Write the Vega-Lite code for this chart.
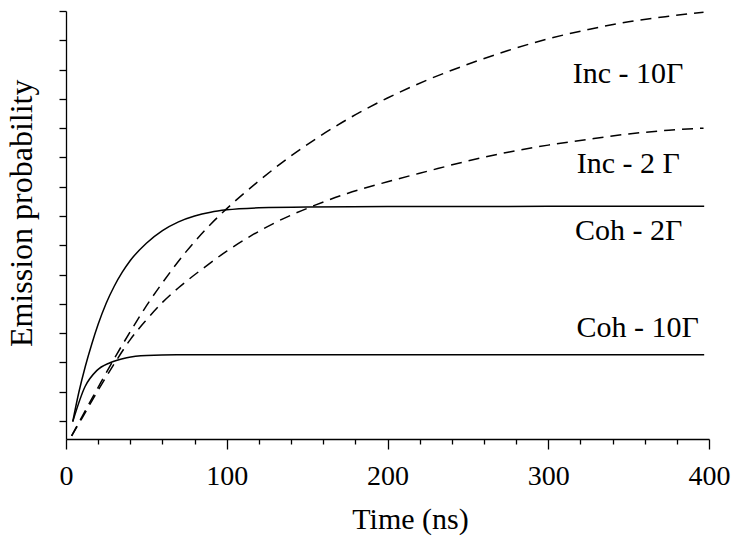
{
  "$schema": "https://vega.github.io/schema/vega-lite/v6.json",
  "width": 643,
  "height": 428,
  "autosize": "none",
  "padding": {"left": 66, "top": 11, "right": 24, "bottom": 98},
  "background": "white",
  "config": {
    "view": {"stroke": null},
    "font": "Liberation Serif, Times New Roman, serif",
    "axis": {"grid": false, "domainColor": "black", "tickColor": "black", "domainWidth": 1.3, "tickWidth": 1.3, "labelColor": "black", "titleColor": "black", "labelFont": "Liberation Serif, Times New Roman, serif", "titleFont": "Liberation Serif, Times New Roman, serif", "titleFontWeight": "normal"}
  },
  "datasets": {
    "curves": [
      {"series": "Coh - 2Γ", "kind": "coh", "t": 4.2, "p": 0.98},
      {"series": "Coh - 2Γ", "kind": "coh", "t": 8, "p": 1.98},
      {"series": "Coh - 2Γ", "kind": "coh", "t": 12, "p": 2.86},
      {"series": "Coh - 2Γ", "kind": "coh", "t": 16, "p": 3.62},
      {"series": "Coh - 2Γ", "kind": "coh", "t": 20, "p": 4.3},
      {"series": "Coh - 2Γ", "kind": "coh", "t": 25, "p": 5.02},
      {"series": "Coh - 2Γ", "kind": "coh", "t": 30, "p": 5.6},
      {"series": "Coh - 2Γ", "kind": "coh", "t": 35, "p": 6.08},
      {"series": "Coh - 2Γ", "kind": "coh", "t": 40, "p": 6.48},
      {"series": "Coh - 2Γ", "kind": "coh", "t": 50, "p": 7.07},
      {"series": "Coh - 2Γ", "kind": "coh", "t": 60, "p": 7.5},
      {"series": "Coh - 2Γ", "kind": "coh", "t": 70, "p": 7.8},
      {"series": "Coh - 2Γ", "kind": "coh", "t": 80, "p": 8.0},
      {"series": "Coh - 2Γ", "kind": "coh", "t": 90, "p": 8.13},
      {"series": "Coh - 2Γ", "kind": "coh", "t": 100, "p": 8.21},
      {"series": "Coh - 2Γ", "kind": "coh", "t": 120, "p": 8.28},
      {"series": "Coh - 2Γ", "kind": "coh", "t": 150, "p": 8.31},
      {"series": "Coh - 2Γ", "kind": "coh", "t": 200, "p": 8.32},
      {"series": "Coh - 2Γ", "kind": "coh", "t": 300, "p": 8.33},
      {"series": "Coh - 2Γ", "kind": "coh", "t": 397, "p": 8.33},
      {"series": "Coh - 10Γ", "kind": "coh", "t": 4.2, "p": 0.98},
      {"series": "Coh - 10Γ", "kind": "coh", "t": 11.8, "p": 2.17},
      {"series": "Coh - 10Γ", "kind": "coh", "t": 19.1, "p": 2.72},
      {"series": "Coh - 10Γ", "kind": "coh", "t": 27.4, "p": 2.99},
      {"series": "Coh - 10Γ", "kind": "coh", "t": 37.8, "p": 3.16},
      {"series": "Coh - 10Γ", "kind": "coh", "t": 50.2, "p": 3.235},
      {"series": "Coh - 10Γ", "kind": "coh", "t": 68.9, "p": 3.26},
      {"series": "Coh - 10Γ", "kind": "coh", "t": 100, "p": 3.26},
      {"series": "Coh - 10Γ", "kind": "coh", "t": 200, "p": 3.26},
      {"series": "Coh - 10Γ", "kind": "coh", "t": 397, "p": 3.26},
      {"series": "Inc - 10Γ", "kind": "inc", "t": 3.5, "p": 0.49},
      {"series": "Inc - 10Γ", "kind": "inc", "t": 10, "p": 1.15},
      {"series": "Inc - 10Γ", "kind": "inc", "t": 20, "p": 2.15},
      {"series": "Inc - 10Γ", "kind": "inc", "t": 30, "p": 3.13},
      {"series": "Inc - 10Γ", "kind": "inc", "t": 40, "p": 4.05},
      {"series": "Inc - 10Γ", "kind": "inc", "t": 50, "p": 4.93},
      {"series": "Inc - 10Γ", "kind": "inc", "t": 60, "p": 5.72},
      {"series": "Inc - 10Γ", "kind": "inc", "t": 75, "p": 6.8},
      {"series": "Inc - 10Γ", "kind": "inc", "t": 90, "p": 7.72},
      {"series": "Inc - 10Γ", "kind": "inc", "t": 105, "p": 8.5},
      {"series": "Inc - 10Γ", "kind": "inc", "t": 120, "p": 9.2},
      {"series": "Inc - 10Γ", "kind": "inc", "t": 135, "p": 9.85},
      {"series": "Inc - 10Γ", "kind": "inc", "t": 155, "p": 10.62},
      {"series": "Inc - 10Γ", "kind": "inc", "t": 175, "p": 11.3},
      {"series": "Inc - 10Γ", "kind": "inc", "t": 200, "p": 12.03},
      {"series": "Inc - 10Γ", "kind": "inc", "t": 225, "p": 12.65},
      {"series": "Inc - 10Γ", "kind": "inc", "t": 250, "p": 13.18},
      {"series": "Inc - 10Γ", "kind": "inc", "t": 275, "p": 13.65},
      {"series": "Inc - 10Γ", "kind": "inc", "t": 300, "p": 14.05},
      {"series": "Inc - 10Γ", "kind": "inc", "t": 325, "p": 14.37},
      {"series": "Inc - 10Γ", "kind": "inc", "t": 350, "p": 14.63},
      {"series": "Inc - 10Γ", "kind": "inc", "t": 375, "p": 14.82},
      {"series": "Inc - 10Γ", "kind": "inc", "t": 396.6, "p": 14.96},
      {"series": "Inc - 2Γ", "kind": "inc", "t": 3.5, "p": 0.49},
      {"series": "Inc - 2Γ", "kind": "inc", "t": 10, "p": 1.1},
      {"series": "Inc - 2Γ", "kind": "inc", "t": 20, "p": 2.05},
      {"series": "Inc - 2Γ", "kind": "inc", "t": 30, "p": 2.95},
      {"series": "Inc - 2Γ", "kind": "inc", "t": 40, "p": 3.78},
      {"series": "Inc - 2Γ", "kind": "inc", "t": 50, "p": 4.45},
      {"series": "Inc - 2Γ", "kind": "inc", "t": 60, "p": 5.05},
      {"series": "Inc - 2Γ", "kind": "inc", "t": 70, "p": 5.55},
      {"series": "Inc - 2Γ", "kind": "inc", "t": 85, "p": 6.2},
      {"series": "Inc - 2Γ", "kind": "inc", "t": 100, "p": 6.8},
      {"series": "Inc - 2Γ", "kind": "inc", "t": 115, "p": 7.32},
      {"series": "Inc - 2Γ", "kind": "inc", "t": 130, "p": 7.77},
      {"series": "Inc - 2Γ", "kind": "inc", "t": 155, "p": 8.37},
      {"series": "Inc - 2Γ", "kind": "inc", "t": 175, "p": 8.77},
      {"series": "Inc - 2Γ", "kind": "inc", "t": 200, "p": 9.17},
      {"series": "Inc - 2Γ", "kind": "inc", "t": 225, "p": 9.53},
      {"series": "Inc - 2Γ", "kind": "inc", "t": 250, "p": 9.88},
      {"series": "Inc - 2Γ", "kind": "inc", "t": 275, "p": 10.18},
      {"series": "Inc - 2Γ", "kind": "inc", "t": 300, "p": 10.42},
      {"series": "Inc - 2Γ", "kind": "inc", "t": 325, "p": 10.62},
      {"series": "Inc - 2Γ", "kind": "inc", "t": 350, "p": 10.8},
      {"series": "Inc - 2Γ", "kind": "inc", "t": 375, "p": 10.93},
      {"series": "Inc - 2Γ", "kind": "inc", "t": 396.6, "p": 11.0}
    ],
    "labels": [
      {"text": "Inc - 10Γ", "t": 315.2, "p": 12.53},
      {"text": "Inc - 2 Γ", "t": 317.7, "p": 9.46},
      {"text": "Coh - 2Γ", "t": 316.6, "p": 7.18},
      {"text": "Coh - 10Γ", "t": 317.5, "p": 3.88}
    ]
  },
  "layer": [
    {
      "data": {"name": "curves"},
      "transform": [{"filter": "datum.kind === 'coh'"}],
      "mark": {"type": "line", "color": "black", "strokeWidth": 1.5, "interpolate": "monotone"},
      "encoding": {
        "x": {"field": "t", "type": "quantitative", "scale": {"domain": [0, 400], "nice": false, "zero": false},
          "axis": {"values": [0, 20, 40, 60, 80, 100, 120, 140, 160, 180, 200, 220, 240, 260, 280, 300, 320, 340, 360, 380, 400],
            "tickCount": 100,
            "labelExpr": "datum.value % 100 === 0 ? datum.label : ''",
            "tickSize": {"condition": {"test": "datum.value % 100 === 0", "value": 10}, "value": 5},
            "labelFontSize": 28, "labelPadding": 13, "labelFlush": false, "labelOverlap": false,
            "title": "Time (ns)", "titleFontSize": 30, "titleX": 344, "titleY": 89, "titleBaseline": "alphabetic", "titleAlign": "center"}},
        "y": {"field": "p", "type": "quantitative", "scale": {"domain": [0.385, 15], "nice": false, "zero": false},
          "axis": {"values": [1, 2, 3, 4, 5, 6, 7, 8, 9, 10, 11, 12, 13, 14, 15], "tickCount": 100, "labels": false, "tickSize": 7,
            "title": "Emission probability", "titleFontSize": 32, "titleX": -34.3, "titleY": 201.8, "titleAngle": -90, "titleBaseline": "alphabetic", "titleAlign": "center"}},
        "detail": {"field": "series"}
      }
    },
    {
      "data": {"name": "curves"},
      "transform": [{"filter": "datum.kind === 'inc'"}],
      "mark": {"type": "line", "color": "black", "strokeWidth": 1.5, "strokeDash": [11, 7], "interpolate": "monotone"},
      "encoding": {
        "x": {"field": "t", "type": "quantitative"},
        "y": {"field": "p", "type": "quantitative"},
        "detail": {"field": "series"}
      }
    },
    {
      "data": {"name": "labels"},
      "mark": {"type": "text", "align": "left", "baseline": "alphabetic", "fontSize": 30, "font": "Liberation Serif, Times New Roman, serif", "color": "black"},
      "encoding": {
        "x": {"field": "t", "type": "quantitative"},
        "y": {"field": "p", "type": "quantitative"},
        "text": {"field": "text"}
      }
    }
  ]
}
